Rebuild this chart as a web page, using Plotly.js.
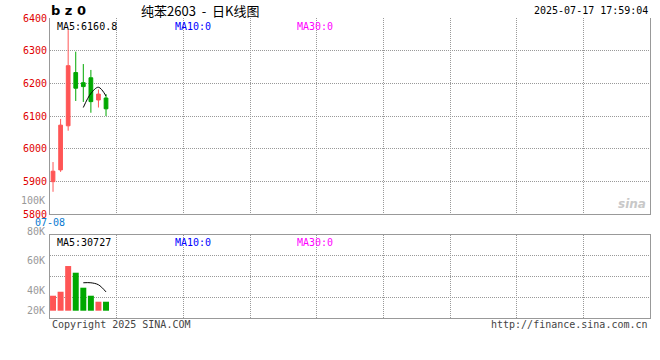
<!DOCTYPE html>
<html><head><meta charset="utf-8">
<script src="https://cdn.plot.ly/plotly-3.0.1.min.js"></script>
<style>html,body{margin:0;padding:0;background:#fff}#chart{width:660px;height:360px}</style>
</head><body><div id="chart"></div>
<script>
// ---- data ----
const dates  = ['07-08','07-09','07-10','07-11','07-14','07-15','07-16','07-17'];
const openP  = [5899, 5935, 6070, 6233, 6202, 6217, 6149, 6155];
const highP  = [5959, 6091, 6363, 6297, 6259, 6241, 6181, 6167];
const lowP   = [5868, 5929, 6055, 6146, 6143, 6110, 6126, 6100];
const closeP = [5931, 6072, 6254, 6185, 6190, 6144, 6167, 6122];
const ma5Price = [6126, 6169, 6188, 6161];
const volume = [24500, 31000, 73000, 62100, 37600, 24500, 14700, 14700];
const ma5Vol = [45640, 45640, 42380, 30727];
const priceTicks = [5800, 5900, 6000, 6100, 6200, 6300, 6400];
const volTickLabels = ['100K', '80K', '60K', '40K', '20K'];
const xTickLabels = ['07-08'];
const headerTexts = {code: 'b z 0', title: '纯苯2603  -  日K线图', time: '2025-07-17 17:59:04'};
const priceMaTexts = ['MA5:6160.8', 'MA10:0', 'MA30:0'];
const volMaTexts = ['MA5:30727', 'MA10:0', 'MA30:0'];
const footerTexts = ['Copyright 2025 SINA.COM', 'http://finance.sina.com.cn'];

// ---- styling / layout ----
const MONO = 'DejaVu Sans Mono, monospace';
const RED = '#ff5555', GREEN = '#00a800';
const idx = dates.map((d, i) => i);
const maIdx = [4, 5, 6, 7];
const xRange = [-0.4, 78.85];
const gridStep = (xRange[1] - xRange[0]) / 9;
const gridVals = [];
for (let k = 0; k <= 9; k++) gridVals.push(xRange[0] + k * gridStep);
const gridText = gridVals.map((v, k) => xTickLabels[k] || '');

const px = x => (x - 50) / 600;
const py = y => (318 - y) / 300;

const traces = [
  {
    type: 'candlestick', x: idx, open: openP, high: highP, low: lowP, close: closeP,
    xaxis: 'x', yaxis: 'y',
    increasing: {line: {color: RED, width: 1}, fillcolor: RED},
    decreasing: {line: {color: GREEN, width: 1}, fillcolor: GREEN},
    whiskerwidth: 0, hoverinfo: 'skip', showlegend: false
  },
  {
    type: 'scatter', mode: 'lines', x: maIdx, y: ma5Price, xaxis: 'x', yaxis: 'y',
    line: {color: '#000', width: 1, shape: 'spline'}, hoverinfo: 'skip', showlegend: false
  },
  {
    type: 'bar', x: idx, y: volume, xaxis: 'x2', yaxis: 'y2', width: 0.79,
    marker: {color: idx.map(i => closeP[i] >= openP[i] ? RED : GREEN), line: {width: 0}},
    hoverinfo: 'skip', showlegend: false
  },
  {
    type: 'scatter', mode: 'lines', x: maIdx, y: ma5Vol, xaxis: 'x2', yaxis: 'y2',
    line: {color: '#000', width: 1, shape: 'spline'}, hoverinfo: 'skip', showlegend: false
  }
];

const gridCommon = {showgrid: true, gridcolor: '#999', griddash: '1px,1px', gridwidth: 1, zeroline: false,
  showline: true, linecolor: '#999', linewidth: 1, ticks: '', fixedrange: true};

const ann = [];
function addText(text, x, y, opts) {
  ann.push(Object.assign({text: text, x: px(x), y: py(y), xref: 'paper', yref: 'paper',
    showarrow: false, xanchor: 'left', yanchor: 'middle',
    font: {family: MONO, size: 10, color: '#000'}}, opts || {}));
}
addText(headerTexts.code, 49, 11, {font: {family: 'DejaVu Sans', size: 13, color: '#000', weight: 'bold'}});
addText(headerTexts.title, 200, 11, {xanchor: 'center', font: {family: 'Noto Sans CJK SC', size: 13, color: '#000'}});
addText(headerTexts.time, 650, 11, {xanchor: 'right'});
const maColors = ['#000', '#0000ff', '#ff00ff'];
const maX = [55, 173, 295];
priceMaTexts.forEach((t, i) => addText(t, maX[i], 19, {yanchor: 'top', font: {family: MONO, size: 10, color: maColors[i]}}));
volMaTexts.forEach((t, i) => addText(t, maX[i], 234.5, {yanchor: 'top', font: {family: MONO, size: 10, color: maColors[i]}}));
const volLabelY = [200, 231.5, 260.7, 290.7, 310];
volTickLabels.forEach((t, i) => addText(t, 47, volLabelY[i], {xanchor: 'right', font: {family: MONO, size: 10, color: '#999'}}));
addText(footerTexts[0], 50, 324, {font: {family: MONO, size: 10, color: '#444'}});
addText(footerTexts[1], 650, 324, {xanchor: 'right', font: {family: MONO, size: 10, color: '#444'}});
addText('sina', 648, 204, {xanchor: 'right', font: {family: 'DejaVu Sans', size: 12, color: '#c8c8c8', style: 'italic', weight: 'bold'}});

const layout = {
  width: 660, height: 360,
  margin: {l: 50, r: 10, t: 18, b: 42, pad: 0},
  paper_bgcolor: '#fff', plot_bgcolor: '#fff',
  hovermode: false, showlegend: false, boxgap: 0.3,
  xaxis: Object.assign({}, gridCommon, {
    domain: [0, 1], anchor: 'y', range: xRange, tickmode: 'array', tickvals: gridVals, ticktext: gridText,
    tickfont: {family: MONO, size: 10, color: '#0a7ad0'}, ticklabelstandoff: -1,
    rangeslider: {visible: false}, mirror: false
  }),
  yaxis: Object.assign({}, gridCommon, {
    domain: [py(214), 1], anchor: 'x', range: [5800, 6400], tickmode: 'array', tickvals: priceTicks,
    tickfont: {family: MONO, size: 10, color: '#e00000'}, mirror: true
  }),
  xaxis2: Object.assign({}, gridCommon, {
    domain: [0, 1], anchor: 'y2', matches: 'x', range: xRange, tickmode: 'array', tickvals: gridVals,
    showticklabels: false, mirror: true
  }),
  yaxis2: Object.assign({}, gridCommon, {
    domain: [0, py(235)], anchor: 'x2', range: [-11900, 123700], tickmode: 'linear', tick0: -11900, dtick: 33900,
    showticklabels: false, mirror: true
  }),
  annotations: ann
};

Plotly.newPlot('chart', traces, layout, {displayModeBar: false, staticPlot: true});
</script>
</body></html>
